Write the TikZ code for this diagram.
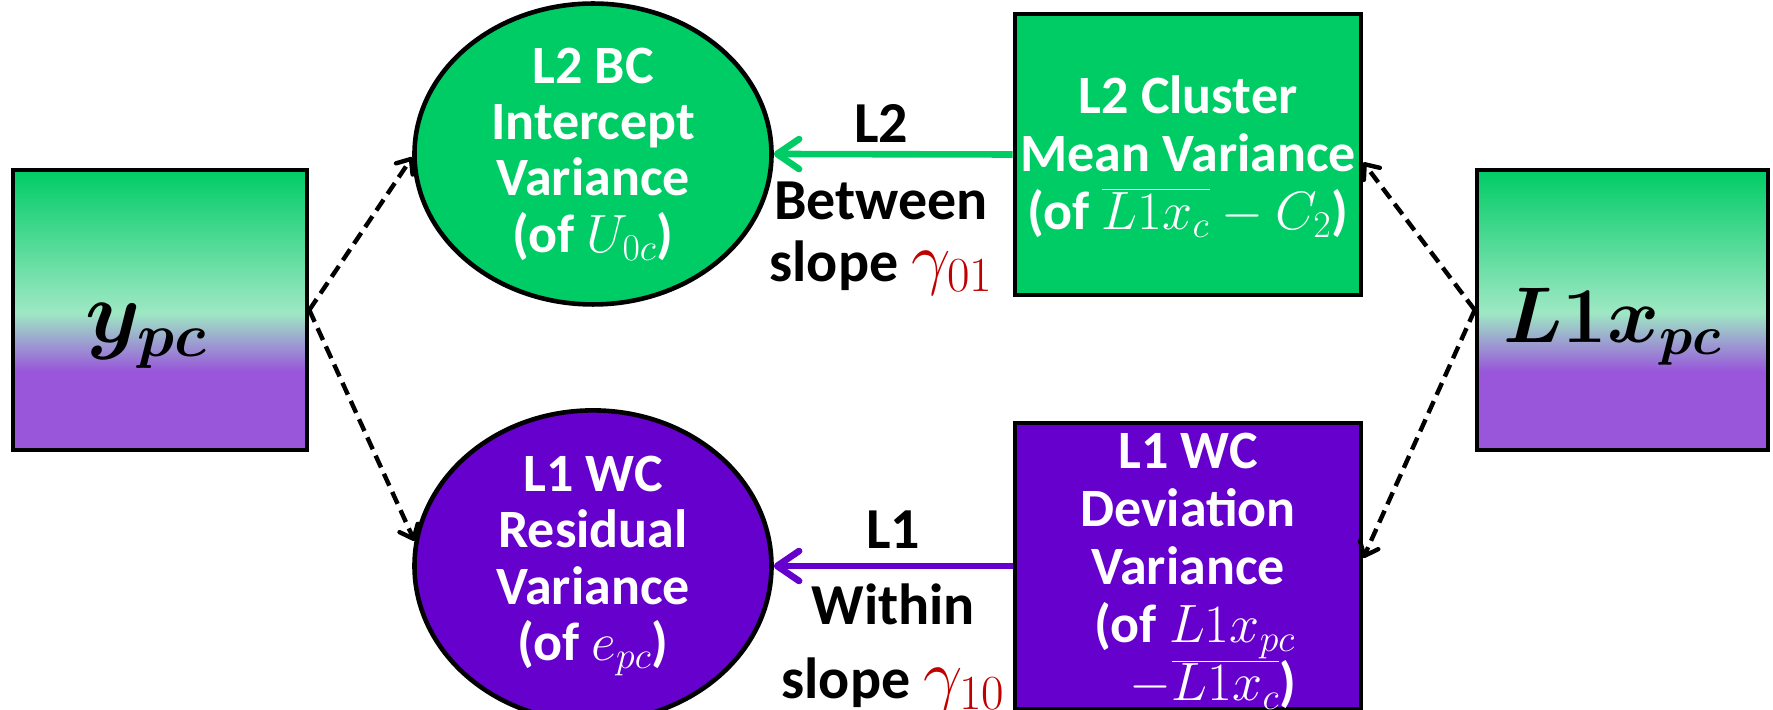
\RequirePackage{fix-cm}
\documentclass[tikz,border=0pt]{standalone}
\usepackage{fontspec}
\usepackage{bm}
\usetikzlibrary{arrows.meta,shapes.geometric}
\newfontfamily\cali{Carlito}

\definecolor{lvgreen}{RGB}{0,204,102}
\definecolor{lvpurple}{RGB}{102,0,204}
\definecolor{lvmint}{RGB}{158,232,196}
\definecolor{lvlilac}{RGB}{153,86,219}
\definecolor{gamred}{RGB}{192,0,0}

% green at the top, pale mint just above the middle, lilac below
\pgfdeclareverticalshading{greenpurple}{100bp}{%
  color(0bp)=(lvlilac); color(39bp)=(lvlilac); color(49.5bp)=(lvmint);
  color(75bp)=(lvgreen); color(100bp)=(lvgreen)}

% red slope coefficient, set a little larger than the label text
\newcommand{\slopecoef}[1]{{\color{gamred}\fontsize{35}{31}\selectfont$#1$}}

\tikzset{
  frame/.style={draw=black, line width=2.3pt},
  gradbox/.style={frame, rectangle, shade, shading=greenpurple,
    minimum height=140pt, inner sep=0pt, text height=40pt, text depth=7pt},
  latent/.style={frame, ellipse, minimum width=178.5pt, inner sep=0pt,
    text=white, align=center, font=\cali\bfseries\fontsize{27}{28.2}\selectfont},
  varbox/.style={frame, rectangle, minimum width=173pt, inner sep=0pt,
    text=white, align=center, font=\cali\bfseries\fontsize{27}{29}\selectfont},
  lbl/.style={inner sep=0pt, align=center, text=black,
    font=\cali\bfseries\fontsize{29}{31}\selectfont},
  slope/.style={line width=3.3pt,
    -{Straight Barb[length=11pt, width=15pt, line cap=round, line join=round]}},
  link/.style={line width=2.2pt, dash pattern=on 6.5pt off 3.5pt,
    -{Straight Barb[length=6pt, width=10pt, line cap=round, line join=round]}},
}

\begin{document}
\begin{tikzpicture}[x=0.5pt, y=-0.5pt]
\useasboundingbox (0,0) rectangle (1773,710);

% observed variables
\node[gradbox, minimum width=147pt, font=\fontsize{44}{50}\selectfont]
  (ypc) at (160,310) {$\bm{y_{pc}}$\hspace*{14pt}};
\node[gradbox, minimum width=145.5pt, font=\fontsize{39.5}{50}\selectfont]
  (lx) at (1622.5,310) {$\bm{L1x_{pc}}$\hspace*{10pt}};

% latent variance components
\node[latent, fill=lvgreen, minimum height=132.5pt] (bc) at (593,154)
  {L2 BC\\Intercept\\Variance\\(of $U_{0c}$)};
\node[latent, fill=lvpurple, minimum height=140pt] (wc) at (593,566)
  {L1 WC\\Residual\\Variance\\(of $e_{pc}$)};

% predictor decomposition (an empty first line nudges each text block down)
\node[varbox, fill=lvgreen, minimum height=140.5pt] (cm) at (1188,154.5)
  {\rule{0pt}{0pt}\\[-8.2pt]L2 Cluster\\Mean Variance\\(of $\overline{L1x_c}-C_2$)};
\node[varbox, fill=lvpurple, minimum height=141pt] (dev) at (1188,566)
  {\rule{0pt}{0pt}\\[-6pt]L1 WC\\Deviation\\Variance\\\hspace*{7pt}(of $L1x_{pc}$\\\hspace*{25pt}$-\overline{L1x_c}$)};

% slopes
\draw[slope, draw=lvgreen] (cm.west) --
  node[lbl, above=4pt, xshift=-6pt] {L2}
  node[lbl, below=12pt, xshift=-6pt] {Between\\slope \slopecoef{\gamma_{01}}}
  (bc.east);
\draw[slope, draw=lvpurple] (dev.west) --
  node[lbl, above=7pt] {L1}
  node[lbl, below=7.5pt] {Within\\[6pt]slope \slopecoef{\gamma_{10}}}
  (wc.east);

% links from the observed variables
\draw[link] (ypc.east) -- (bc.181);
\draw[link] (ypc.east) -- (wc.172);
\draw[link] (lx.west) -- ([yshift=-4pt]cm.east);
\draw[link] (lx.west) -- ([yshift=4pt]dev.east);
\end{tikzpicture}
\end{document}
